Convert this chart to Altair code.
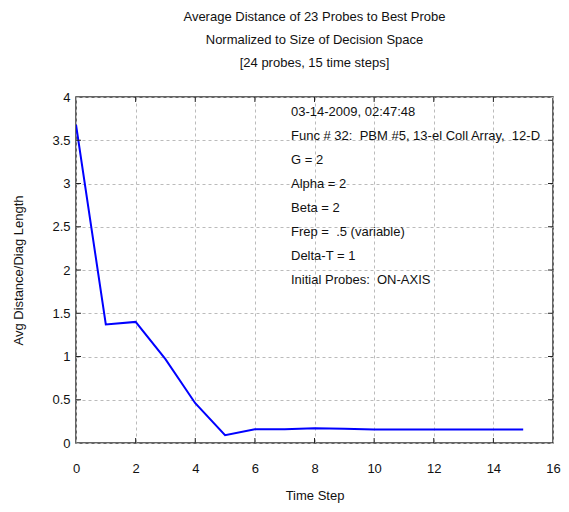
import altair as alt
import pandas as pd

# Data
time_step = list(range(0, 16))
avg_dist = [3.68, 1.37, 1.40, 0.97, 0.46, 0.09, 0.16, 0.16, 0.17, 0.165, 0.155, 0.155, 0.155, 0.155, 0.155, 0.155]

x_ticks = [0, 2, 4, 6, 8, 10, 12, 14, 16]
y_ticks = [0, 0.5, 1, 1.5, 2, 2.5, 3, 3.5, 4]

title_lines = [
    "Average Distance of 23 Probes to Best Probe",
    "Normalized to Size of Decision Space",
    "[24 probes, 15 time steps]",
]
annotation_lines = [
    "03-14-2009, 02:47:48",
    "Func # 32:  PBM #5, 13-el Coll Array,  12-D",
    "G = 2",
    "Alpha = 2",
    "Beta = 2",
    "Frep =  .5 (variable)",
    "Delta-T = 1",
    "Initial Probes:  ON-AXIS",
]
# keep double spaces visible in SVG
annotation_lines = [s.replace("  ", " \u00a0") for s in annotation_lines]

FONT = "Liberation Sans"
FS = 13
W, H = 477, 346

df = pd.DataFrame({"t": time_step, "d": avg_dist})
xt = pd.DataFrame({"t": x_ticks[1:-1]})
yt = pd.DataFrame({"d": y_ticks[1:-1]})

xscale = alt.Scale(domain=[0, 16], nice=False)
yscale = alt.Scale(domain=[0, 4], nice=False)

line = alt.Chart(df).mark_line(color="#0000FF", strokeWidth=2, clip=True).encode(
    x=alt.X("t:Q", scale=xscale, title="Time Step",
            axis=alt.Axis(values=x_ticks, ticks=False, domain=False, labelPadding=19,
                          titlePadding=14, gridDash=[3, 3], gridColor="#bbbbbb",
                          labelFontSize=FS, titleFontSize=FS, format="~g",
                          labelFlush=False)),
    y=alt.Y("d:Q", scale=yscale, title="Avg Distance/Diag Length",
            axis=alt.Axis(values=y_ticks, ticks=False, domain=False, labelPadding=6,
                          titlePadding=26, gridDash=[3, 3], gridColor="#bbbbbb",
                          labelFontSize=FS, titleFontSize=FS, format="~g",
                          labelFlush=False)),
)

tick_style = dict(color="#222222", strokeWidth=1)
bt = alt.Chart(xt).mark_rule(**tick_style).encode(x=alt.X("t:Q", scale=xscale), y=alt.value(H), y2=alt.value(H - 5))
tt = alt.Chart(xt).mark_rule(**tick_style).encode(x=alt.X("t:Q", scale=xscale), y=alt.value(0), y2=alt.value(5))
lt = alt.Chart(yt).mark_rule(**tick_style).encode(y=alt.Y("d:Q", scale=yscale), x=alt.value(0), x2=alt.value(5))
rt = alt.Chart(yt).mark_rule(**tick_style).encode(y=alt.Y("d:Q", scale=yscale), x=alt.value(W), x2=alt.value(W - 5))

ann = alt.Chart(pd.DataFrame({"a": [0]})).mark_text(
    text=annotation_lines, align="left", baseline="middle", lineHeight=24,
    fontSize=FS, font=FONT, color="#111111"
).encode(x=alt.value(215), y=alt.value(15))

chart = alt.layer(line, bt, tt, lt, rt, ann).properties(
    width=W, height=H,
    title=alt.Title(title_lines, anchor="middle", fontSize=FS, fontWeight="normal",
                    font=FONT, lineHeight=23, offset=21, color="#111111"),
    autosize=alt.AutoSizeParams(type="none"),
    padding={"left": 68, "top": 89, "right": 8, "bottom": 61},
).configure_view(
    stroke="#333333", strokeWidth=1.5
).configure_axis(
    labelFont=FONT, titleFont=FONT, labelColor="#111111", titleColor="#111111",
    titleFontWeight="normal"
)

chart.save("out.html", embed_options={"renderer": "svg", "actions": False})
